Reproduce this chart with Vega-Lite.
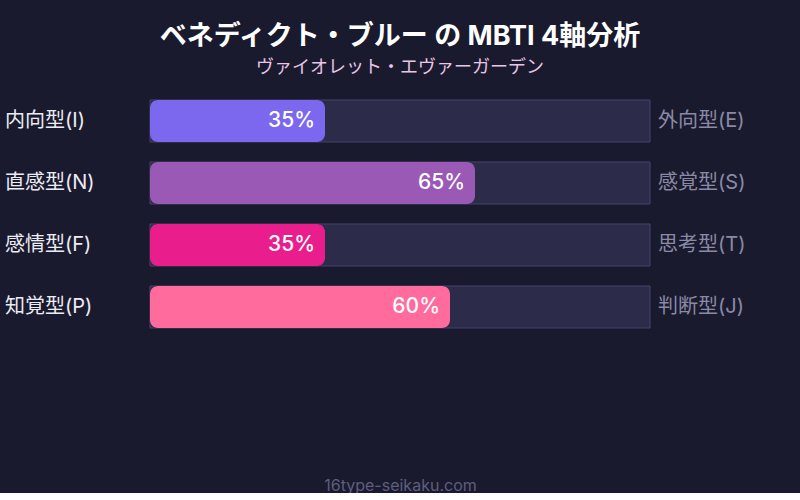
{
  "$schema": "https://vega.github.io/schema/vega-lite/v6.json",
  "width": 800,
  "height": 248,
  "padding": {"top": 23, "left": 0, "right": 0, "bottom": 0},
  "background": "#1a1a2e",
  "config": {
    "view": {"stroke": null},
    "font": "Inter, Noto Sans CJK JP"
  },
  "title": {
    "text": "ベネディクト・ブルー の MBTI 4軸分析",
    "subtitle": "ヴァイオレット・エヴァーガーデン",
    "fontSize": 27,
    "fontWeight": "bold",
    "color": "#ffffff",
    "subtitleFontSize": 18,
    "subtitleColor": "#eac6e6",
    "subtitlePadding": 8,
    "anchor": "middle",
    "frame": "group",
    "offset": 12
  },
  "data": {
    "values": [
      {"axis": "IE", "left": "内向型(I)", "right": "外向型(E)", "value": 0.35},
      {"axis": "NS", "left": "直感型(N)", "right": "感覚型(S)", "value": 0.65},
      {"axis": "FT", "left": "感情型(F)", "right": "思考型(T)", "value": 0.35},
      {"axis": "PJ", "left": "知覚型(P)", "right": "判断型(J)", "value": 0.60}
    ]
  },
  "encoding": {
    "y": {
      "field": "axis",
      "type": "nominal",
      "sort": null,
      "axis": null,
      "scale": {"paddingInner": 0.3226, "paddingOuter": 0.1613}
    }
  },
  "layer": [
    {
      "mark": {"type": "bar", "fill": "#2d2b4a", "stroke": "#44426a", "strokeWidth": 1},
      "encoding": {
        "x": {
          "datum": 1,
          "type": "quantitative",
          "scale": {"domain": [-0.3, 1.3], "nice": false, "zero": false},
          "axis": {
            "title": "16type-seikaku.com",
            "titleColor": "#5e5e7e",
            "titleFontSize": 16,
            "titleFontWeight": "normal",
            "titleFont": "Inter",
            "titlePadding": 139,
            "domain": false,
            "ticks": false,
            "labels": false,
            "grid": false
          }
        }
      }
    },
    {
      "mark": {"type": "bar", "cornerRadius": 8},
      "encoding": {
        "x": {"field": "value", "type": "quantitative"},
        "color": {
          "field": "axis",
          "type": "nominal",
          "scale": {
            "domain": ["IE", "NS", "FT", "PJ"],
            "range": ["#7b68ee", "#9b59b6", "#e91e8c", "#ff6b9d"]
          },
          "legend": null
        }
      }
    },
    {
      "mark": {"type": "text", "align": "right", "dx": -10, "fontSize": 21, "fontWeight": 500, "color": "#ffffff"},
      "encoding": {
        "x": {"field": "value", "type": "quantitative"},
        "text": {"field": "value", "type": "quantitative", "format": ".0%"}
      }
    },
    {
      "mark": {"type": "text", "align": "left", "fontSize": 20, "color": "#ececf4"},
      "encoding": {
        "x": {"datum": -0.29, "type": "quantitative"},
        "text": {"field": "left"}
      }
    },
    {
      "mark": {"type": "text", "align": "left", "fontSize": 20, "color": "#8a8aa6"},
      "encoding": {
        "x": {"datum": 1.016, "type": "quantitative"},
        "text": {"field": "right"}
      }
    }
  ]
}
